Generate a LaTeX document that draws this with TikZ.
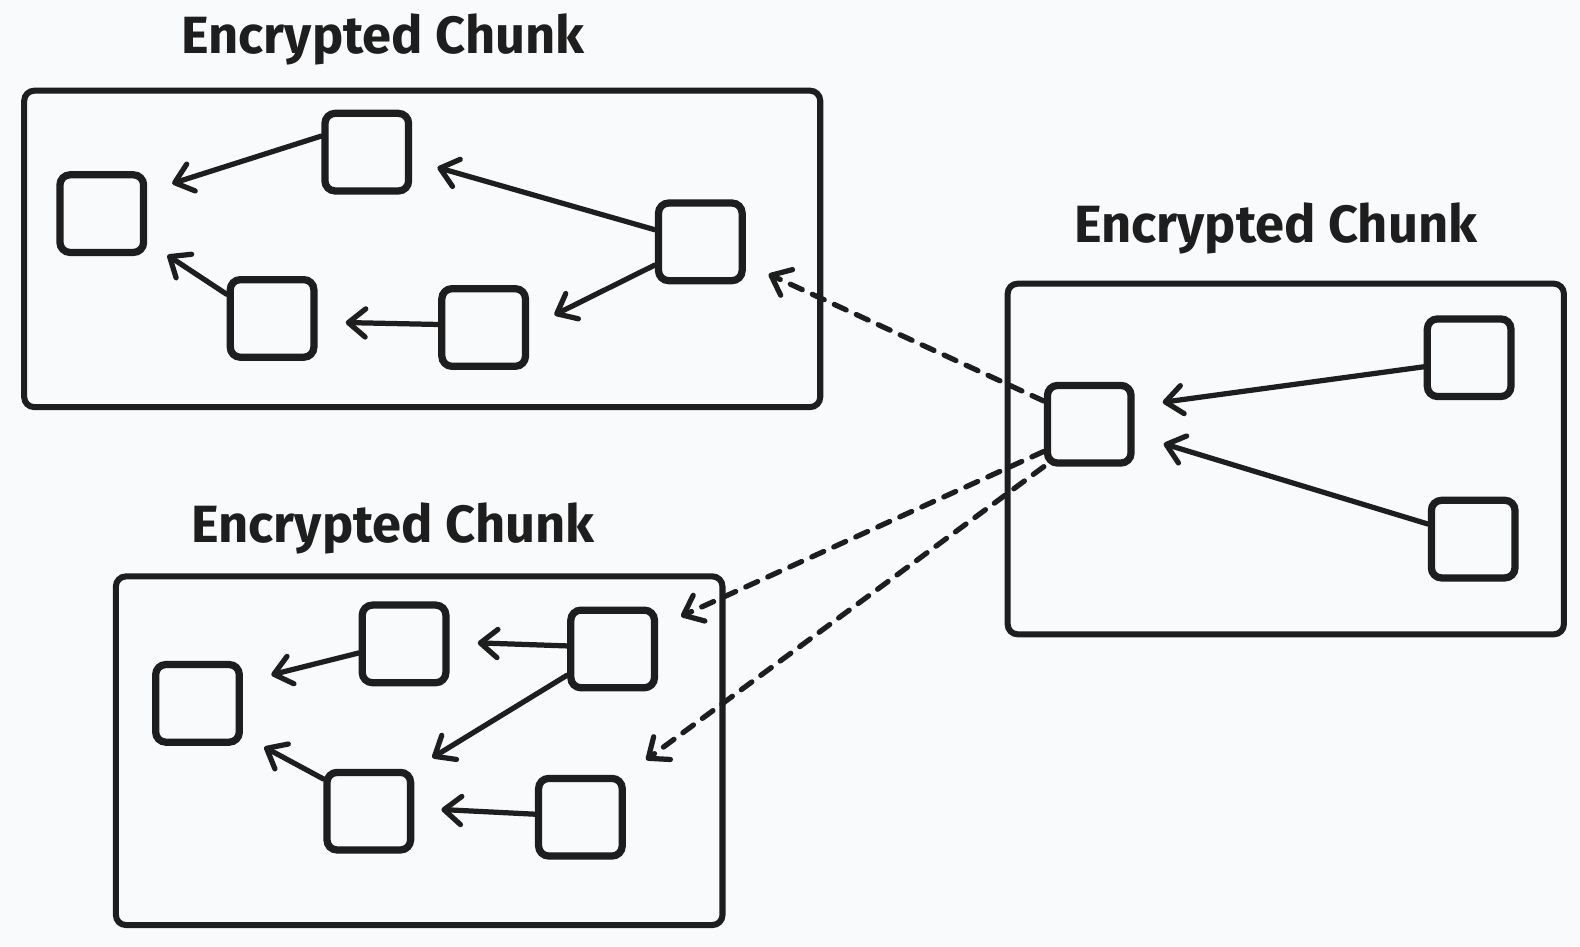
\documentclass[tikz,border=0pt]{standalone}
\usepackage{fontspec}
\setmainfont{Fira Sans}
\usetikzlibrary{arrows.meta}
\definecolor{bg}{RGB}{249,250,251}
\definecolor{ink}{RGB}{30,30,30}
\begin{document}
\begin{tikzpicture}[x=0.5pt,y=-0.5pt,
  chunk/.style={draw=ink,line width=3pt,rounded corners=5pt,inner sep=0pt},
  blk/.style={draw=ink,line width=3.6pt,rounded corners=5pt,minimum width=41.5pt,minimum height=38.5pt,inner sep=0pt},
  ttl/.style={font=\fontsize{26}{31}\selectfont\bfseries,text=ink,anchor=base,inner sep=0pt},
  arr/.style={draw=ink,line width=2.6pt,line cap=round,line join=round,-{Straight Barb[length=8.5pt,width=14pt,round]}},
  dsh/.style={arr,dash pattern=on 6.5pt off 5.5pt}]
\fill[bg] (0,0) rectangle (1568,939);
\useasboundingbox (0,0) rectangle (1568,939);

% chunk frames
\node[chunk,minimum width=395pt,minimum height=157pt] (top) at (419,247) {};
\node[chunk,minimum width=276pt,minimum height=174pt] (right) at (1276,455.5) {};
\node[chunk,minimum width=301pt,minimum height=173pt] (bot) at (416,745) {};

% titles
\node[ttl] (ttop) at (380,53) {Encrypted Chunk};
\node[ttl] (tright) at (1266,241) {Encrypted Chunk};
\node[ttl] (tbot) at (390,538) {Encrypted Chunk};

% top chunk blocks
\node[blk] (A) at (101,212) {};
\node[blk] (B) at (364,151) {};
\node[blk] (C) at (695,240) {};
\node[blk] (D) at (270,316) {};
\node[blk] (E) at (480,325) {};

% right chunk blocks
\node[blk] (F) at (1081,421) {};
\node[blk] (G) at (1458,355) {};
\node[blk] (H) at (1462,535) {};

% bottom chunk blocks
\node[blk] (I) at (196,698) {};
\node[blk] (J) at (401,639) {};
\node[blk] (K) at (608,644) {};
\node[blk] (L) at (366,805) {};
\node[blk] (M) at (576,811) {};

% top chunk arrows
\draw[arr,shorten >=13pt] ([yshift=8pt]B.west) -- ([yshift=11pt]A.east);
\draw[arr,shorten >=13pt] ([yshift=6pt]C.west) -- ([yshift=-4pt]B.east);
\draw[arr,shorten >=14pt] ([yshift=-11.5pt]C.west) -- (E.east);
\draw[arr,shorten >=14pt] ([yshift=1.5pt]E.west) -- ([yshift=-1.75pt]D.east);
\draw[arr,shorten >=12pt] ([yshift=12pt]D.west) -- ([yshift=-14pt]A.east);

% right chunk arrows
\draw[arr,shorten >=14pt] ([yshift=-4.5pt]G.west) -- ([yshift=9pt]F.east);
\draw[arr,shorten >=15pt] ([yshift=7.5pt]H.west) -- ([yshift=-5.3pt]F.east);

% bottom chunk arrows
\draw[arr,shorten >=14.5pt] ([yshift=-4.5pt]J.west) -- ([yshift=10.6pt]I.east);
\draw[arr,shorten >=14pt] ([yshift=1.5pt]K.west) -- ([yshift=1pt]J.east);
\draw[arr,shorten >=10.5pt] ([yshift=-13pt]K.west) -- (L.north east);
\draw[arr,shorten >=12pt] ([yshift=16pt]L.west) -- ([yshift=-16pt]I.east);
\draw[arr,shorten >=13.5pt] ([yshift=1.5pt]M.west) -- ([yshift=1.5pt]L.east);

% dashed cross-chunk references
\draw[dsh,shorten >=12.5pt] ([yshift=11.5pt]F.west) -- ([yshift=-10.8pt]C.east);
\draw[dsh,shorten >=12.5pt] ([yshift=-13.5pt]F.west) -- ([yshift=11pt]K.east);
\draw[dsh,shorten >=12.5pt] (F.south west) -- (M.north east);
\end{tikzpicture}
\end{document}
